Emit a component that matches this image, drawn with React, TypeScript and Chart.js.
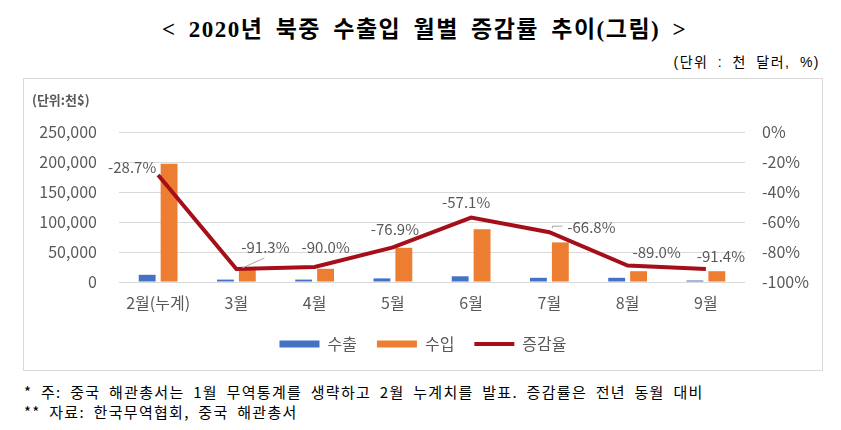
import React, { useEffect, useRef } from "react";
import { Chart, registerables } from "chart.js";

Chart.register(...registerables);

const categories = ["2월(누계)", "3월", "4월", "5월", "6월", "7월", "8월", "9월"];
const exportValues = [12000, 4000, 4000, 6000, 9500, 7000, 7000, 2500];
const importValues = [197000, 20700, 22000, 57000, 88000, 66000, 18000, 18000];
const changeRates = [-28.7, -91.3, -90.0, -76.9, -57.1, -66.8, -89.0, -91.4];
const leftTicks = [0, 50000, 100000, 150000, 200000, 250000];
const rightTicks = [-100, -80, -60, -40, -20, 0];

// label offsets relative to each line point (style only)
const labelOffsets: [number, number][] = [
  [-26, -8],
  [29, -22],
  [11, -20],
  [2, -18],
  [-5, -15],
  [42, -5],
  [29, -13],
  [15, -13],
];

const FONT = '"Noto Sans CJK KR", "Noto Sans", sans-serif';
const GRAY = "#595959";

const rateLabelPlugin = {
  id: "rateLabels",
  afterDatasetsDraw(chart: any) {
    const meta = chart.getDatasetMeta(2);
    const ctx = chart.ctx;
    ctx.save();
    ctx.strokeStyle = "#A6A6A6";
    ctx.lineWidth = 1;
    const p3 = meta.data[1];
    if (p3) {
      ctx.beginPath();
      ctx.moveTo(p3.x + 6, p3.y - 1);
      ctx.lineTo(p3.x + 28, p3.y - 11);
      ctx.stroke();
    }
    const p7 = meta.data[5];
    if (p7) {
      ctx.beginPath();
      ctx.moveTo(p7.x + 3, p7.y - 4);
      ctx.lineTo(p7.x + 3, p7.y - 6);
      ctx.lineTo(p7.x + 13, p7.y - 6);
      ctx.stroke();
    }
    ctx.font = `15px ${FONT}`;
    ctx.fillStyle = GRAY;
    ctx.textAlign = "center";
    ctx.textBaseline = "middle";
    meta.data.forEach((pt: any, i: number) => {
      const [dx, dy] = labelOffsets[i];
      ctx.fillText(changeRates[i].toFixed(1) + "%", pt.x + dx, pt.y + dy);
    });
    ctx.restore();
  },
};

function ChartBox() {
  const ref = useRef<HTMLCanvasElement | null>(null);
  useEffect(() => {
    if (!ref.current) return;
    const chart = new Chart(ref.current, {
      type: "bar",
      data: {
        labels: categories,
        datasets: [
          {
            type: "bar",
            label: "수출",
            data: exportValues,
            backgroundColor: "#4472C4",
            borderWidth: 0,
            yAxisID: "y",
            order: 1,
            categoryPercentage: 0.56,
            barPercentage: 0.77,
            pointStyle: "rect",
          } as any,
          {
            type: "bar",
            label: "수입",
            data: importValues,
            backgroundColor: "#ED7D31",
            borderWidth: 0,
            yAxisID: "y",
            order: 1,
            categoryPercentage: 0.56,
            barPercentage: 0.77,
            pointStyle: "rect",
          } as any,
          {
            type: "line",
            label: "증감율",
            data: changeRates,
            borderColor: "#A50F1A",
            backgroundColor: "#A50F1A",
            borderWidth: 4,
            pointRadius: 0,
            pointStyle: "line",
            tension: 0,
            yAxisID: "y1",
            order: 0,
          } as any,
        ],
      },
      options: {
        animation: false,
        responsive: false,
        layout: { padding: { top: 54, left: 0, right: 0, bottom: 8 } },
        plugins: {
          tooltip: { enabled: false },
          legend: {
            position: "bottom",
            labels: {
              usePointStyle: true,
              pointStyleWidth: 40,
              boxHeight: 7,
              padding: 20,
              color: GRAY,
              font: { family: FONT, size: 16 },
              sort: (a: any, b: any) => a.datasetIndex - b.datasetIndex,
            },
          },
        },
        scales: {
          x: {
            grid: { display: false, drawTicks: false },
            border: { display: false },
            afterFit: (s: any) => {
              s.height = 34;
            },
            ticks: { color: GRAY, font: { family: FONT, size: 16 }, padding: 11, maxRotation: 0, autoSkip: false },
          },
          y: {
            position: "left",
            min: 0,
            max: 250000,
            afterBuildTicks: (s: any) => {
              s.ticks = leftTicks.map((v) => ({ value: v }));
            },
            afterFit: (s: any) => {
              s.width = 96;
            },
            grid: { color: "#D9D9D9", drawTicks: false, lineWidth: 1 },
            border: { display: false },
            ticks: {
              color: GRAY,
              padding: 22,
              font: { family: FONT, size: 16 },
              callback: (v: any) => Number(v).toLocaleString("en-US"),
            },
          },
          y1: {
            position: "right",
            min: -100,
            max: 0,
            afterBuildTicks: (s: any) => {
              s.ticks = rightTicks.map((v) => ({ value: v }));
            },
            afterFit: (s: any) => {
              s.width = 78;
            },
            grid: { display: false, drawTicks: false },
            border: { display: false },
            ticks: {
              color: GRAY,
              padding: 17,
              font: { family: FONT, size: 16 },
              callback: (v: any) => v + "%",
            },
          },
        },
      } as any,
      plugins: [rateLabelPlugin],
    });
    return () => chart.destroy();
  }, []);
  return <canvas ref={ref} width={800} height={292} style={{ position: "absolute", left: 23, top: 78, width: 800, height: 292 }} />;
}

export default function App() {
  return (
    <div style={{ position: "absolute", left: 0, top: 0, width: 841, height: 430, background: "#fff", overflow: "hidden" }}>
      <div
        style={{
          position: "absolute",
          left: 0,
          width: 841,
          top: 14,
          textAlign: "center",
          fontFamily: '"Liberation Serif", "Noto Sans CJK KR", serif',
          fontWeight: "bold",
          fontSize: 23,
          letterSpacing: 1.5,
          wordSpacing: 5,
          color: "#000",
          lineHeight: "32px",
          paddingLeft: 4,
        }}
      >
        {"< 2020년 북중 수출입 월별 증감률 추이(그림) >"}
      </div>
      <div
        style={{
          position: "absolute",
          right: 21,
          top: 52,
          fontFamily: '"Liberation Sans", "Noto Sans CJK KR", sans-serif',
          fontSize: 14,
          letterSpacing: 1.5,
          wordSpacing: 4,
          color: "#000",
          lineHeight: "20px",
        }}
      >
        (단위 : 천 달러, %)
      </div>
      <div
        style={{
          position: "absolute",
          left: 23,
          top: 78,
          width: 800,
          height: 293,
          border: "1px solid #D9D9D9",
          boxSizing: "border-box",
        }}
      />
      <ChartBox />
      <div
        style={{
          position: "absolute",
          left: 32,
          top: 90,
          fontFamily: FONT,
          fontWeight: "bold",
          fontSize: 13,
          color: GRAY,
          lineHeight: "20px",
        }}
      >
        (단위:천$)
      </div>
      <div
        style={{
          position: "absolute",
          left: 24,
          top: 382,
          fontFamily: '"Noto Sans CJK KR", sans-serif',
          fontSize: 15,
          letterSpacing: 1.3,
          wordSpacing: 4,
          color: "#000",
          lineHeight: "20px",
        }}
      >
        <div>* 주: 중국 해관총서는 1월 무역통계를 생략하고 2월 누계치를 발표. 증감률은 전년 동월 대비</div>
        <div>** 자료: 한국무역협회, 중국 해관총서</div>
      </div>
    </div>
  );
}
